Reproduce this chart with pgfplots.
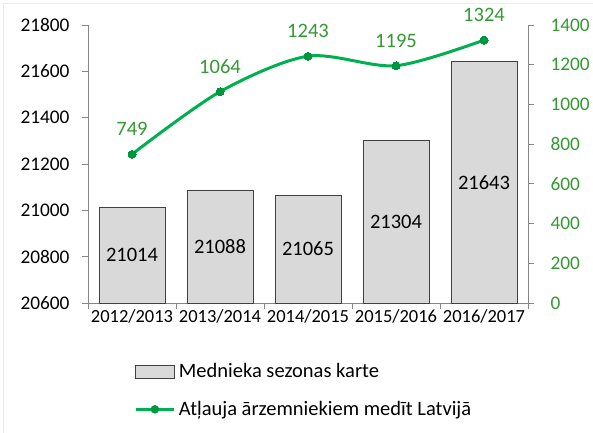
\documentclass[border=0pt]{standalone}
\usepackage{fontspec}
\setmainfont{Carlito}
\usepackage{pgfplots}
\pgfplotsset{compat=1.18}
\definecolor{barfill}{HTML}{D9D9D9}
\definecolor{barborder}{HTML}{404040}
\definecolor{linegreen}{HTML}{00B050}
\definecolor{markgreen}{HTML}{00953F}
\definecolor{labelgreen}{HTML}{339933}
\definecolor{axisgray}{HTML}{868686}
\begin{document}
\begin{tikzpicture}[x=1pt,y=1pt]
\path[use as bounding box] (0,0) rectangle (593,432);
\draw[draw=black!8,line width=0.8pt] (3,-5) -- (3,429) -- (598,429);
\begin{axis}[
  at={(88pt,129pt)}, anchor=south west,
  scale only axis, width=440pt, height=278pt,
  font=\fontsize{20.5}{24}\selectfont,
  scaled y ticks=false,
  /pgf/number format/assume math mode=true,
  /pgf/number format/1000 sep={},
  /pgf/number format/fixed,
  xmin=-0.5, xmax=4.5, ymin=20600, ymax=21800,
  ytick={20600,20800,...,21800},
  axis x line*=bottom, axis y line*=left,
  axis line style={draw=axisgray, line width=0.8pt, -},
  tick style={draw=axisgray, line width=0.8pt},
  tick align=outside, major tick length=6pt,
  xtick={-0.5,0.5,1.5,2.5,3.5,4.5}, xticklabels={},
  extra x ticks={0,1,2,3,4},
  extra x tick labels={2012/2013,2013/2014,2014/2015,2015/2016,2016/2017},
  extra x tick style={major tick length=0pt, tick style={draw=none}},
  xticklabel style={yshift=-3pt, font=\fontsize{18.5}{22}\selectfont},
  yticklabel style={xshift=-9pt, font=\fontsize{19.3}{23}\selectfont},
  legend style={at={(rel axis cs:0.105,-0.205)}, anchor=north west, draw=none, fill=none,
    font=\fontsize{20.5}{24}\selectfont, row sep=15pt, inner sep=0pt,
    /tikz/every even column/.append style={column sep=0pt},
    nodes={inner sep=3.5pt}},
  legend cell align=left,
]
\addplot[ybar, bar width=66pt, fill=barfill, draw=barborder, line width=0.8pt,
  legend image code/.code={\draw[fill=barfill,draw=barborder,line width=0.8pt] (0pt,-6.5pt) rectangle (38pt,6.5pt);}]
  coordinates {(0,21014) (1,21088) (2,21065) (3,21304) (4,21643)};
\addlegendentry{Mednieka sezonas karte}
\addlegendimage{legend image code/.code={\draw[linegreen,line width=3pt] (0pt,0pt) -- (38pt,0pt); \fill[markgreen] (19pt,0pt) circle (4pt);}}
\addlegendentry{Atļauja ārzemniekiem medīt Latvijā}
\node at (axis cs:0,20807) {21014};
\node at (axis cs:1,20844) {21088};
\node at (axis cs:2,20832.5) {21065};
\node at (axis cs:3,20952) {21304};
\node at (axis cs:4,21121.5) {21643};
\end{axis}
\begin{axis}[
  at={(88pt,129pt)}, anchor=south west,
  scale only axis, width=440pt, height=278pt,
  font=\fontsize{20.5}{24}\selectfont,
  /pgf/number format/assume math mode=true,
  /pgf/number format/1000 sep={},
  xmin=-0.5, xmax=4.5, ymin=0, ymax=1400,
  ytick={0,200,...,1400},
  axis x line=none, axis y line*=right,
  axis line style={draw=axisgray, line width=0.8pt, -},
  tick style={draw=axisgray, line width=0.8pt},
  tick align=outside, major tick length=6pt,
  yticklabel style={text=labelgreen, xshift=13pt, font=\fontsize{19.3}{23}\selectfont},
]
\addplot[linegreen, line width=3pt, smooth, tension=0.5, mark=*, mark size=4pt,
  mark options={fill=markgreen, draw=markgreen, line width=0pt},
  nodes near coords, point meta=explicit symbolic,
  every node near coord/.append style={anchor=center, yshift=25pt, text=labelgreen, font=\fontsize{20.5}{24}\selectfont}]
  coordinates {(0,749)[749] (1,1064)[1064] (2,1243)[1243] (3,1195)[1195] (4,1324)[1324]};
\end{axis}
\end{tikzpicture}
\end{document}
